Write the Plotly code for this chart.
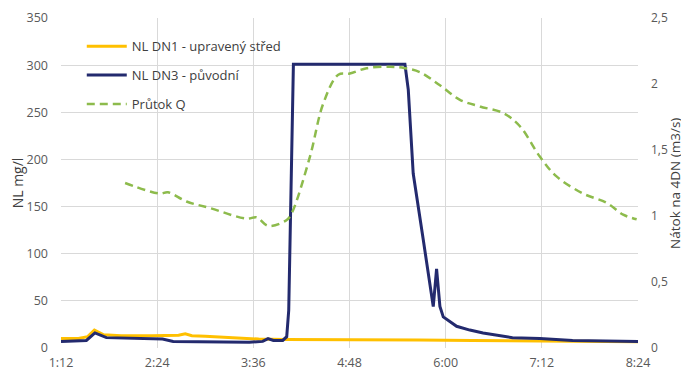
import plotly.graph_objects as go

# time in minutes after midnight
tick_vals = [72, 144, 216, 288, 360, 432, 504]
tick_text = ["1:12", "2:24", "3:36", "4:48", "6:00", "7:12", "8:24"]

dn1_t = [72, 85, 92, 97, 104, 117, 140, 160, 165, 170, 180, 200, 220, 240, 260, 300, 340, 380, 420, 460, 504]
dn1_v = [10, 10, 12, 19, 14, 13, 13, 13.5, 15, 13, 12.5, 11, 9.5, 9, 9, 9, 8.5, 8, 7.5, 7, 6.5]

dn3_t = [72, 91, 97.4, 106, 148, 156, 213, 223, 227, 231, 238, 241, 242.5, 246, 327, 329.5, 332, 335.7, 343.2, 350.7, 353.2, 355.7, 358.2, 368.2, 378.1, 388, 410, 430.5, 455, 504]
dn3_v = [7, 8, 16, 11, 9.5, 7, 6, 7, 10, 8, 8, 12, 40, 301, 301, 301, 274, 185, 115, 44, 84, 44, 33, 23, 19, 16, 11, 10, 8, 7]

q_t = [120, 146, 152, 166, 183.5, 211, 218.5, 227.2, 241, 244.7, 258.4, 268.3, 279.6, 288.3, 300.8, 318.3, 329.5, 340.7, 355.7, 370.7, 385.6, 403.1, 415.6, 430.5, 443, 462.9, 480.5, 492.9, 503]
q_v = [1.25, 1.17, 1.18, 1.11, 1.06, 0.98, 0.99, 0.925, 0.97, 1.02, 1.45, 1.85, 2.07, 2.08, 2.12, 2.13, 2.12, 2.09, 1.99, 1.88, 1.83, 1.78, 1.68, 1.45, 1.3, 1.17, 1.1, 1.01, 0.975]

fig = go.Figure()
fig.add_trace(go.Scatter(x=dn1_t, y=dn1_v, mode="lines", name="NL DN1 - upravený střed",
                         legendgroup="a", line=dict(color="#FFC000", width=3)))
fig.add_trace(go.Scatter(x=dn3_t, y=dn3_v, mode="lines", name="NL DN3 - původní",
                         legendgroup="b", line=dict(color="#232a6e", width=3)))
fig.add_trace(go.Scatter(x=q_t, y=q_v, mode="lines", name="Průtok Q", yaxis="y2",
                         legendgroup="c",
                         line=dict(color="#8dbb4c", width=2.5, dash="8px,5px", shape="spline")))

FAM = "Open Sans, Liberation Sans, Arial, sans-serif"
font = dict(family=FAM, size=12.5, color="#595959")
# the page body adds an 8px offset, so the figure is drawn 8px smaller
fig.update_layout(
    width=681, height=362,
    margin=dict(l=53, r=51, t=10, b=22, autoexpand=False),
    paper_bgcolor="white", plot_bgcolor="white",
    separators=",.",
    font=font,
    showlegend=True,
    legend=dict(x=0.036, y=0.96, xanchor="left", yanchor="top", bgcolor="rgba(0,0,0,0)",
                font=dict(family=FAM, size=13, color="#404040"), tracegroupgap=9, itemwidth=40),
    xaxis=dict(range=[72, 504], tickvals=tick_vals, ticktext=tick_text, showgrid=True,
               gridcolor="#d9d9d9", zeroline=False, showline=False, ticks="", ticklabelstandoff=5,
               automargin=False, tickfont=dict(family=FAM, size=12.5, color="#595959")),
    yaxis=dict(range=[0, 350], dtick=50, showgrid=True, gridcolor="#d9d9d9", zeroline=False,
               showline=False, automargin=False,
               tickfont=dict(family=FAM, size=12.5, color="#595959"),
               title=dict(text="NL mg/l", standoff=4, font=dict(family=FAM, size=14, color="#404040")),
               ticklabelstandoff=12),
    yaxis2=dict(range=[0, 2.5], dtick=0.5, overlaying="y", side="right", showgrid=False,
                zeroline=False, showline=False, automargin=False,
                tickfont=dict(family=FAM, size=12, color="#595959"),
                ticklabelstandoff=12),
    annotations=[dict(text="Nátok na 4DN (m3/s)", xref="paper", yref="paper", x=1.064, y=0.5,
                      xanchor="center", yanchor="middle", textangle=-90, showarrow=False,
                      font=dict(family=FAM, size=13.5, color="#404040"))],
)
fig.write_html("out.html")
